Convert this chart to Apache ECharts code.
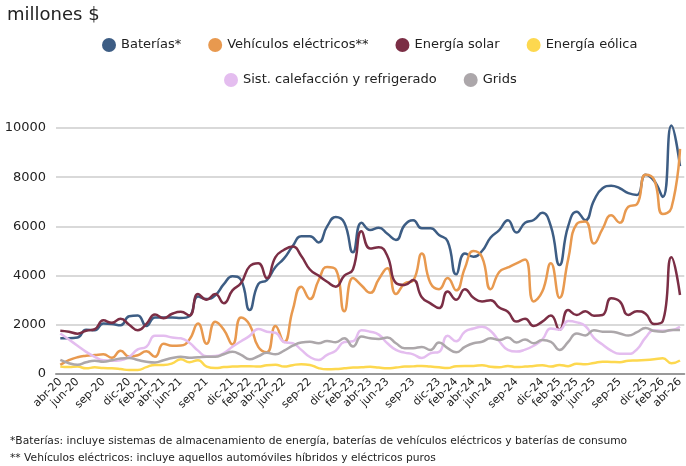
<!DOCTYPE html>
<html>
<head>
<meta charset="utf-8">
<script src="https://cdn.jsdelivr.net/npm/echarts@6/dist/echarts.min.js"></script>
<style>
  html, body { margin: 0; padding: 0; background: #fff; }
  #chart { width: 686px; height: 466px; }
</style>
</head>
<body>
<div id="chart"></div>
<script>
// meses abr-20 .. abr-26
const meses = [
  'abr-20','may-20','jun-20','jul-20','ago-20','sep-20','oct-20','nov-20','dic-20',
  'ene-21','feb-21','mar-21','abr-21','may-21','jun-21','jul-21','ago-21','sep-21','oct-21','nov-21','dic-21',
  'ene-22','feb-22','mar-22','abr-22','may-22','jun-22','jul-22','ago-22','sep-22','oct-22','nov-22','dic-22',
  'ene-23','feb-23','mar-23','abr-23','may-23','jun-23','jul-23','ago-23','sep-23','oct-23','nov-23','dic-23',
  'ene-24','feb-24','mar-24','abr-24','may-24','jun-24','jul-24','ago-24','sep-24','oct-24','nov-24','dic-24',
  'ene-25','feb-25','mar-25','abr-25','may-25','jun-25','jul-25','ago-25','sep-25','oct-25','nov-25','dic-25',
  'ene-26','feb-26','mar-26','abr-26'
];
// meses que llevan etiqueta en el eje
const mesesEtiqueta = ['feb', 'abr', 'jun', 'sep', 'dic'];

const baterias = [
  1450,1450,1480,1800,1780,2050,2030,1980,2350,2380,1950,2300,2300,2300,2280,2350,
  3150,3050,3200,3650,3970,3820,2600,3650,3820,4350,4700,5200,5600,5600,5350,6000,
  6380,6150,4950,6150,5850,5950,5700,5450,6050,6250,5920,5920,5650,5400,4050,4900,
  4770,5000,5550,5850,6250,5750,6150,6260,6550,6000,4430,6000,6600,6250,7050,7550,
  7650,7550,7350,7280,8100,7850,7200,10100,8450
];
const vehiculos = [
  370,560,680,740,770,800,660,950,710,760,920,700,1230,1150,1160,1400,
  2050,1230,2120,1800,1200,2300,2000,1100,880,1950,1300,2600,3550,3050,3800,4350,
  4250,2550,3900,3600,3300,3850,4300,3250,3680,3800,4900,3700,3450,3900,3400,4300,
  5000,4750,3450,4150,4330,4500,4650,2950,3350,4500,3100,4650,6100,6200,5300,5900,
  6450,6150,6800,6900,8100,7900,6500,6750,9150
];
const solar = [
  1760,1720,1640,1760,1820,2180,2080,2250,2000,1780,2040,2420,2270,2450,2530,2380,
  3250,3020,3250,2880,3400,3700,4380,4500,3900,4750,5050,5180,4800,4250,4000,3750,
  3550,4000,4250,5800,5100,5150,4800,3700,3620,3820,3120,2870,2680,3350,3020,3450,
  3100,2950,3000,2700,2530,2130,2250,1950,2130,2380,1800,2600,2400,2550,2370,2400,
  3080,2950,2400,2550,2450,2030,2150,4750,3210
];
const eolica = [
  300,280,300,230,270,240,230,200,160,160,280,370,370,430,600,480,
  560,300,240,280,300,310,320,300,360,380,300,360,400,370,240,190,
  200,230,260,270,290,260,230,260,300,310,330,300,270,240,320,330,
  330,360,290,270,330,280,300,330,360,300,370,320,420,400,450,500,
  490,480,540,550,570,600,640,440,550
];
const calefaccion = [
  1650,1400,1150,900,700,560,540,560,700,1000,1110,1550,1550,1480,1450,1270,
  950,720,730,850,1110,1330,1550,1830,1720,1680,1300,1250,980,690,570,780,
  950,1300,1330,1780,1720,1600,1250,980,870,800,650,840,900,1550,1330,1720,
  1850,1920,1750,1330,980,910,990,1150,1400,1850,1800,2150,2100,1950,1470,1200,
  950,820,820,1000,1480,1780,1760,1780,1920
];
const grids = [
  570,440,380,480,540,500,560,630,650,570,500,470,560,650,700,660,
  680,700,700,800,900,780,600,720,860,800,950,1150,1280,1310,1250,1340,
  1290,1450,1120,1520,1450,1420,1480,1250,1050,1050,1100,980,1280,1050,880,1100,
  1250,1310,1450,1380,1480,1280,1400,1250,1380,1310,980,1300,1650,1570,1780,1720,
  1720,1650,1560,1700,1870,1750,1720,1790,1790
];

const nombres = ['Baterías*', 'Vehículos eléctricos**', 'Energía solar', 'Energía eólica',
  'Sist. calefacción y refrigerado', 'Grids'];
const colores = ['#3d5d84', '#e8994f', '#7b2e45', '#fdd84f', '#e4bdef', '#aca7aa'];
const datos = [baterias, vehiculos, solar, eolica, calefaccion, grids];

const font = 'DejaVu Sans, Verdana, sans-serif';
const chart = echarts.init(document.getElementById('chart'));

const option = {
  animation: false,
  color: colores,
  title: {
    text: 'millones $',
    left: 2,
    top: 1,
    textStyle: { fontFamily: font, fontSize: 18, fontWeight: 'normal', color: '#222' }
  },
  legend: [
    {
      data: nombres.slice(0, 4),
      left: 97, top: 33,
      icon: 'circle', itemWidth: 14, itemHeight: 14, itemGap: 27,
      textStyle: { fontFamily: font, fontSize: 13, color: '#222' }
    },
    {
      data: nombres.slice(4),
      left: 219, top: 68,
      icon: 'circle', itemWidth: 14, itemHeight: 14, itemGap: 27,
      textStyle: { fontFamily: font, fontSize: 13, color: '#222' }
    }
  ],
  grid: { left: 56, right: 0, top: 128, bottom: 92 },
  xAxis: {
    type: 'category',
    data: meses,
    boundaryGap: true,
    axisLine: { lineStyle: { color: '#999', width: 2 } },
    axisTick: { show: false },
    axisLabel: {
      rotate: 45,
      margin: 6,
      fontFamily: font,
      fontSize: 11,
      color: '#222',
      interval: (i, v) => mesesEtiqueta.includes(v.slice(0, 3))
    }
  },
  yAxis: {
    type: 'value',
    min: 0,
    max: 10000,
    interval: 2000,
    axisLabel: { fontFamily: font, fontSize: 13, color: '#222', margin: 10, formatter: v => String(v) },
    splitLine: { lineStyle: { color: '#cccccc', width: 1.5 } }
  },
  series: datos.map((d, k) => ({
    name: nombres[k],
    type: 'line',
    data: d,
    smooth: true,
    showSymbol: false,
    clip: false,
    lineStyle: { width: 2.5, color: colores[k] },
    itemStyle: { color: colores[k] }
  })),
  graphic: [
    {
      type: 'text', left: 10, top: 436,
      style: {
        text: '*Baterías: incluye sistemas de almacenamiento de energía, baterías de vehículos eléctricos y baterías de consumo',
        font: '10.7px ' + font, fill: '#222'
      }
    },
    {
      type: 'text', left: 10, top: 453,
      style: {
        text: '** Vehículos eléctricos: incluye aquellos automóviles híbridos y eléctricos puros',
        font: '10.7px ' + font, fill: '#222'
      }
    }
  ]
};

chart.setOption(option);
</script>
</body>
</html>
